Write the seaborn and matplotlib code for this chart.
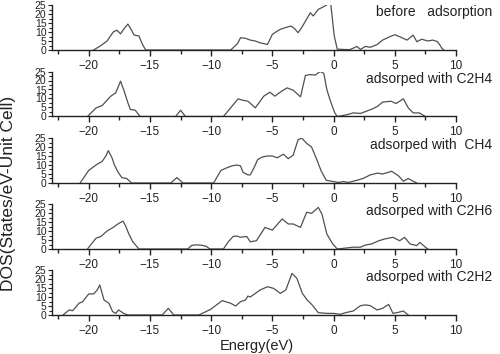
import matplotlib
matplotlib.use("Agg")
import matplotlib.pyplot as plt
from matplotlib.ticker import MultipleLocator
import seaborn as sns

# DOS curves, one pair of lists per panel
e_before = [-19.6, -19.0, -18.5, -18.0, -17.7, -17.4, -17.1, -16.8, -16.5, -16.3, -15.9, -15.6, -15.35,
            -8.4, -7.85, -7.6, -7.2, -6.8, -6.4, -6.0, -5.4, -5.0, -4.6, -4.35, -3.9, -3.5, -3.2,
            -2.9, -2.6, -2.3, -1.9, -1.66, -1.25, -0.85, -0.45, -0.25, 0.05, 0.3, 0.8, 1.3, 1.6,
            1.9, 2.2, 2.6, 3.0, 3.55, 4.0, 4.6, 5.0, 5.4, 6.0, 6.5, 6.8, 7.2, 7.7, 8.1, 8.5, 8.85, 9.0]
dos_before = [0, 2.5, 5, 10, 11, 9, 12, 14.4, 11, 8.3, 7.8, 3, 0,
              0, 3.5, 6.8, 6.5, 5.5, 5, 4, 3.1, 8.7, 10.5, 11.5, 12.5, 13.3, 12,
              9.6, 12.5, 16, 20.7, 18.9, 22.6, 23.9, 25.5, 27, 8, 0.5, 0.3, 0.2, 1,
              2, 0.3, 2, 1.5, 3, 5.5, 7.4, 8.5, 7.4, 5.5, 8.3, 4.6, 6, 5, 5.5, 4.6, 1, 0]

e_c2h4 = [-20.1, -19.4, -18.9, -18.2, -17.8, -17.4, -17.1, -16.8, -16.6, -16.2, -15.8,
          -12.9, -12.5, -12.1,
          -9.0, -8.3, -7.8, -7.4, -7.0, -6.7, -6.4, -6.0, -5.7, -5.2, -4.8, -4.3, -3.8, -3.3,
          -2.7, -2.3, -1.9, -1.5, -1.1, -0.8, -0.55, -0.3, 0.1, 0.3, 1.1, 1.6, 2.2, 2.7, 3.2,
          3.6, 4.0, 4.7, 5.1, 5.7, 6.1, 6.5, 7.0, 7.5]
dos_c2h4 = [0, 4.8, 6.1, 11.3, 13.1, 19.6, 14, 7.6, 3.9, 3.5, 0,
            0, 3.5, 0,
            0, 5.7, 9.8, 9, 8.5, 6.7, 4.8, 8.5, 11.3, 13.5, 11.3, 13.8, 15.9, 14.6,
            10.9, 22.8, 23.3, 23, 25, 24, 15, 9.4, 2, 0, 1, 2, 1.7, 3, 4.3,
            5.7, 8, 8.5, 7.2, 9.8, 4.8, 2, 2, 0]

e_ch4 = [-20.7, -20.3, -20.0, -19.6, -19.3, -18.9, -18.6, -18.4, -18.1, -17.9, -17.6, -17.3, -16.9, -16.5,
         -13.3, -12.8, -12.3,
         -9.8, -9.2, -8.7, -8.3, -7.9, -7.6, -7.4, -7.0, -6.8, -6.5, -6.2, -5.8, -5.4, -5.0, -4.6,
         -4.1, -3.7, -3.3, -2.9, -2.6, -2.2, -1.8, -1.4, -1.0, -0.6, 0.0, 0.4, 0.8, 1.2, 1.9,
         2.4, 3.0, 3.6, 4.0, 4.75, 5.3, 5.7, 6.1, 6.5, 6.8]
dos_ch4 = [0, 4, 7, 9, 10.5, 12, 15, 18, 14, 10, 6, 3, 2.5, 0,
           0, 3, 0,
           0, 7, 8.5, 9.5, 10, 9.5, 6, 4.5, 4.5, 8.5, 13, 14.5, 15, 15, 14,
           16, 13.5, 15.5, 24, 25, 22, 20, 13.5, 6.5, 1.5, 0.8, 0.3, 0.8, 0.3, 1.5,
           2.5, 4.5, 5.5, 5, 6.5, 4, 1, 2.5, 1, 0]

e_c2h6 = [-20.1, -19.7, -19.4, -19.0, -18.5, -18.0, -17.6, -17.2, -17.0, -16.7, -16.4, -15.9,
          -11.9, -11.6, -11.2, -10.8, -10.4, -10.1,
          -9.0, -8.6, -8.2, -7.9, -7.6, -7.1, -6.8, -6.3, -5.6, -5.0, -4.2, -3.7, -3.3, -2.7,
          -2.2, -1.8, -1.25, -0.95, -0.55, -0.1, 0.3, 1.1, 1.6, 2.2, 2.6, 3.1, 3.7, 4.2, 4.85,
          5.4, 5.8, 6.25, 6.8, 7.05, 7.5, 7.7]
dos_c2h6 = [0, 3.5, 6, 7, 10, 12, 14, 15.5, 13, 8, 4, 0,
            0, 2, 2.3, 2.1, 1.5, 0,
            0, 4, 7, 7.2, 6.5, 7, 4, 4.6, 12, 10.5, 16.7, 13.9, 13.9, 12,
            20.4, 19.8, 23.1, 19.4, 8.3, 3.1, 0, 0.6, 1, 1, 2.2, 2.8, 4.6, 5.6, 6.5,
            4.6, 6.5, 2.8, 1.9, 3.7, 1, 0]

e_c2h2 = [-22.1, -21.6, -21.3, -20.8, -20.5, -20.0, -19.6, -19.3, -19.1, -18.75, -18.35, -18.05,
          -17.8, -17.55, -17.15, -16.8,
          -14.0, -13.5, -13.05,
          -11.0, -10.05, -9.1, -8.4, -8.0, -7.6, -7.2, -7.0, -6.8, -6.0, -5.4, -4.9, -4.35, -3.9,
          -3.4, -3.0, -2.55, -2.15, -1.75, -1.25, -0.55, 0.0, 0.55, 1.1, 1.6, 2.2, 2.6, 3.0,
          3.55, 4.0, 4.5, 4.85, 5.3, 5.7, 6.1]
dos_c2h2 = [0, 2.8, 2.4, 6.5, 7.4, 11.7, 11.7, 13.9, 16.7, 8.3, 6.5, 1.9,
            0.9, 2.8, 0.9, 0,
            0, 3.7, 0,
            0, 3.1, 8, 6.5, 5, 7.4, 8.3, 10.5, 10, 13.9, 15.7, 14.8, 12, 13.9,
            23.1, 20.4, 12, 8.3, 5.6, 1.3, 0.9, 0.9, 0.4, 1.5, 2.2, 5.2, 5.6, 5.2,
            2.8, 3.7, 5.9, 0.9, 1.5, 2.2, 0]

panel_labels = ["before   adsorption", "adsorped with C2H4", "adsorped with  CH4",
                "adsorped with C2H6", "adsorped with C2H2"]
energies = [e_before, e_c2h4, e_ch4, e_c2h6, e_c2h2]
dos_values = [dos_before, dos_c2h4, dos_ch4, dos_c2h6, dos_c2h2]

sns.set_style("ticks")
plt.rcParams["font.family"] = ["Liberation Sans", "DejaVu Sans"]

W, H = 500, 354
fig = plt.figure(figsize=(W / 100, H / 100), dpi=100)

left, right = 52, 456
panel_h = 45
bottoms = [50, 116.5, 183, 249, 315]

for i, b in enumerate(bottoms):
    ax = fig.add_axes([left / W, 1 - b / H, (right - left) / W, panel_h / H])
    sns.lineplot(x=energies[i], y=dos_values[i], ax=ax, color="#505050", lw=0.9)
    ax.set_xlim(-23, 10)
    ax.set_ylim(0, 25)
    sns.despine(ax=ax)
    for s in ["left", "bottom"]:
        ax.spines[s].set_color("#222222")
        ax.spines[s].set_linewidth(1.0)
    ax.xaxis.set_major_locator(MultipleLocator(5))
    ax.xaxis.set_minor_locator(MultipleLocator(2.5))
    ax.yaxis.set_major_locator(MultipleLocator(5))
    ax.yaxis.set_minor_locator(MultipleLocator(2.5))
    ax.tick_params(axis="x", which="major", length=4, width=1, labelsize=8.5,
                   pad=3, colors="#222222")
    ax.tick_params(axis="x", which="minor", length=3, width=1, colors="#222222")
    ax.tick_params(axis="y", which="major", length=3, width=0.8, labelsize=7.5,
                   pad=1, colors="#222222")
    ax.tick_params(axis="y", which="minor", length=2, width=0.8, colors="#222222")
    ax.set_xlabel("")
    ax.set_ylabel("")
    ax.text(1.09, 0.99, panel_labels[i], transform=ax.transAxes, ha="right",
            va="top", fontsize=10, color="#222222", clip_on=False)

fig.text(9 / W, 1 - 193 / H, "DOS(States/eV-Unit Cell)", rotation=90, ha="center",
         va="center", fontsize=12.5, color="#222222")
fig.text(257 / W, 1 - 346 / H, "Energy(eV)", ha="center", va="center",
         fontsize=10.5, color="#222222")

fig.savefig("out.png", dpi=100)
